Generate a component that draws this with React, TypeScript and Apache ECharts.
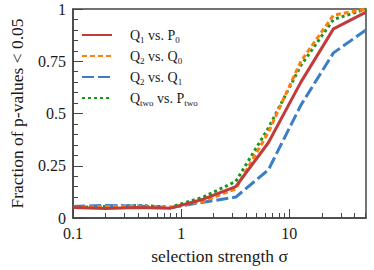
import React, { useEffect, useRef } from "react";
import * as echarts from "echarts";

const sigma = [0.1, 0.2, 0.4, 0.8, 1.6, 3.2, 6.4, 12.8, 25.6, 51.2];
const q1VsP0 = [0.05, 0.045, 0.05, 0.047, 0.09, 0.15, 0.36, 0.65, 0.905, 0.985];
const q2VsQ0 = [0.05, 0.055, 0.055, 0.05, 0.08, 0.14, 0.41, 0.75, 0.97, 1.0];
const q2VsQ1 = [0.055, 0.06, 0.057, 0.05, 0.075, 0.1, 0.23, 0.54, 0.79, 0.9];
const qTwoVsPTwo = [0.05, 0.055, 0.06, 0.052, 0.1, 0.175, 0.43, 0.73, 0.95, 1.0];

const yTicks = [0, 0.25, 0.5, 0.75, 1];
const xMajor = [0.1, 1, 10];
const xMinor = [0.2, 0.3, 0.4, 0.5, 0.6, 0.7, 0.8, 0.9, 2, 3, 4, 5, 6, 7, 8, 9, 20, 30, 40, 50];

const names = ["Q1 vs. P0", "Q2 vs. Q0", "Q2 vs. Q1", "Qtwo vs. Ptwo"];
const richNames: Record<string, string> = {
  "Q1 vs. P0": "{m|Q}{s|1}{m| vs. P}{s|0}",
  "Q2 vs. Q0": "{m|Q}{s|2}{m| vs. Q}{s|0}",
  "Q2 vs. Q1": "{m|Q}{s|2}{m| vs. Q}{s|1}",
  "Qtwo vs. Ptwo": "{m|Q}{s|two}{m| vs. P}{s|two}",
};

const FONT = "'Liberation Serif', 'Times New Roman', 'DejaVu Serif', serif";

export default function App() {
  const ref = useRef<HTMLDivElement>(null);
  useEffect(() => {
    if (!ref.current) return;
    const chart = echarts.init(ref.current, undefined, { renderer: "svg" });
    const mk = (vals: number[]) => sigma.map((x, i) => [x, vals[i]]);
    const axisColor = "#444";
    const txt = "#1a1a1a";
    chart.setOption({
      animation: false,
      textStyle: { fontFamily: FONT },
      grid: {
        left: 62,
        right: 8,
        top: 9,
        bottom: 50,
        show: true,
        borderColor: axisColor,
        borderWidth: 1.5,
        backgroundColor: "transparent",
      },
      legend: {
        data: names,
        orient: "vertical",
        left: 76,
        top: 23,
        padding: 5,
        itemWidth: 30,
        itemHeight: 14,
        itemGap: 5,
        itemStyle: { opacity: 0, borderWidth: 0 },
        formatter: (n: string) => richNames[n],
        textStyle: {
          fontFamily: FONT,
          fontSize: 14,
          color: txt,
          padding: [0, 0, 0, 13],
          rich: {
            m: { fontFamily: FONT, fontSize: 14, color: txt, lineHeight: 18 },
            s: { fontFamily: FONT, fontSize: 9, color: txt, lineHeight: 8, verticalAlign: "bottom" },
          },
        },
      },
      xAxis: [
        {
          type: "log",
          min: 0.1,
          max: 51.2,
          logBase: 10,
          name: "selection strength σ",
          nameLocation: "middle",
          nameGap: 29,
          nameTextStyle: { fontFamily: FONT, fontSize: 17.5, color: txt },
          axisLine: { show: true, lineStyle: { color: axisColor, width: 1.5 } },
          axisTick: { show: true, inside: true, length: 9, customValues: xMajor, lineStyle: { color: axisColor } },
          axisLabel: {
            customValues: xMajor,
            formatter: (v: number) => String(v),
            fontFamily: FONT,
            fontSize: 16,
            color: txt,
            margin: 7,
          },
          splitLine: { show: false },
          minorTick: { show: false },
        },
        {
          type: "log",
          min: 0.1,
          max: 51.2,
          logBase: 10,
          position: "bottom",
          axisLine: { show: false },
          axisTick: { show: true, inside: true, length: 5, customValues: xMinor, lineStyle: { color: axisColor } },
          axisLabel: { show: false },
          splitLine: { show: false },
        },
      ],
      yAxis: {
        type: "value",
        min: 0,
        max: 1,
        interval: 0.25,
        name: "Fraction of p-values < 0.05",
        nameLocation: "middle",
        nameGap: 47,
        nameTextStyle: { fontFamily: FONT, fontSize: 17.5, color: txt },
        axisLine: { show: true, lineStyle: { color: axisColor, width: 1.5 } },
        axisTick: { show: true, inside: true, length: 10, lineStyle: { color: axisColor } },
        minorTick: { show: true, splitNumber: 5, length: 5, lineStyle: { color: axisColor } },
        axisLabel: {
          fontFamily: FONT,
          fontSize: 16,
          color: txt,
          margin: 7,
          formatter: (v: number) => (yTicks.includes(v) ? String(v) : ""),
        },
        splitLine: { show: false },
      },
      series: [
        {
          name: "Qtwo vs. Ptwo",
          type: "line",
          data: mk(qTwoVsPTwo),
          symbol: "none",
          color: "#17961a",
          lineStyle: { width: 3, type: [3, 3], color: "#17961a" },
        },
        {
          name: "Q2 vs. Q1",
          type: "line",
          data: mk(q2VsQ1),
          symbol: "none",
          color: "#3a7fc6",
          lineStyle: { width: 3, type: [12, 4], color: "#3a7fc6" },
        },
        {
          name: "Q2 vs. Q0",
          type: "line",
          data: mk(q2VsQ0),
          symbol: "none",
          color: "#ff7f0e",
          lineStyle: { width: 3, type: [5, 3], color: "#ff7f0e" },
        },
        {
          name: "Q1 vs. P0",
          type: "line",
          data: mk(q1VsP0),
          symbol: "none",
          color: "#c23b3b",
          lineStyle: { width: 3, type: "solid", color: "#c23b3b" },
        },
      ],
    });
    return () => chart.dispose();
  }, []);
  return (
    <div
      ref={ref}
      style={{ position: "fixed", left: 0, top: 0, width: 374, height: 270, background: "#fff" }}
    />
  );
}
